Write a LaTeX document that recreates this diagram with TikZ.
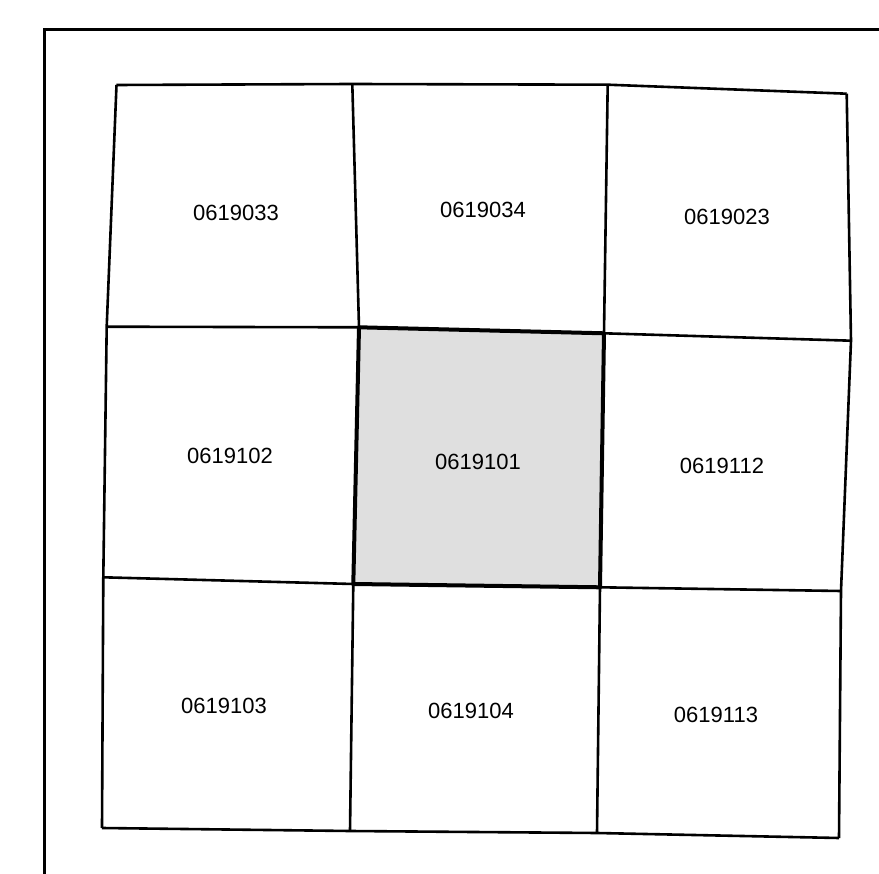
\documentclass[tikz,border=0pt]{standalone}
\usepackage{fontspec}
\setmainfont{Liberation Sans}
\begin{document}
\begin{tikzpicture}[x=1pt,y=-1pt,
  grid/.style={line width=2.6pt,line join=round},
  thick box/.style={line width=4pt,line join=round},
  lbl/.style={font=\fontsize{22}{26}\selectfont,inner sep=0pt}]
\useasboundingbox (0,0) rectangle (879,874);
% outer frame
\draw[line width=2.2pt] (44.5,880) -- (44.5,29.5) -- (885,29.5);
% grid vertices
\coordinate (a0) at (116.5,85);  \coordinate (a1) at (352.3,84); \coordinate (a2) at (607.7,84.7); \coordinate (a3) at (846.7,93.7);
\coordinate (b0) at (106.7,326.7); \coordinate (b1) at (359,327.3); \coordinate (b2) at (604,333.3); \coordinate (b3) at (851,340.7);
\coordinate (c0) at (103.3,577.3); \coordinate (c1) at (353.3,584); \coordinate (c2) at (600,587.3); \coordinate (c3) at (841,591);
\coordinate (d0) at (102,828); \coordinate (d1) at (350,831); \coordinate (d2) at (597,833); \coordinate (d3) at (839,838);
% shaded centre
\fill[gray!25] (b1) -- (b2) -- (c2) -- (c1) -- cycle;
% grid lines
\draw[grid] (a0) -- (a1) -- (a2) -- (a3);
\draw[grid] (b0) -- (b1) -- (b2) -- (b3);
\draw[grid] (c0) -- (c1) -- (c2) -- (c3);
\draw[grid] (d0) -- (d1) -- (d2) -- (d3);
\draw[grid] (a0) -- (b0) -- (c0) -- (d0);
\draw[grid] (a1) -- (b1) -- (c1) -- (d1);
\draw[grid] (a2) -- (b2) -- (c2) -- (d2);
\draw[grid] (a3) -- (b3) -- (c3) -- (d3);
\draw[thick box] (b1) -- (b2) -- (c2) -- (c1) -- cycle;
% labels
\node[lbl] (n11) at (236,213) {0619033};
\node[lbl] (n12) at (483,210) {0619034};
\node[lbl] (n13) at (727,217) {0619023};
\node[lbl] (n21) at (230,456) {0619102};
\node[lbl] (n22) at (478,462) {0619101};
\node[lbl] (n23) at (722,466) {0619112};
\node[lbl] (n31) at (224,706) {0619103};
\node[lbl] (n32) at (471,711) {0619104};
\node[lbl] (n33) at (716,715) {0619113};
\end{tikzpicture}
\end{document}
